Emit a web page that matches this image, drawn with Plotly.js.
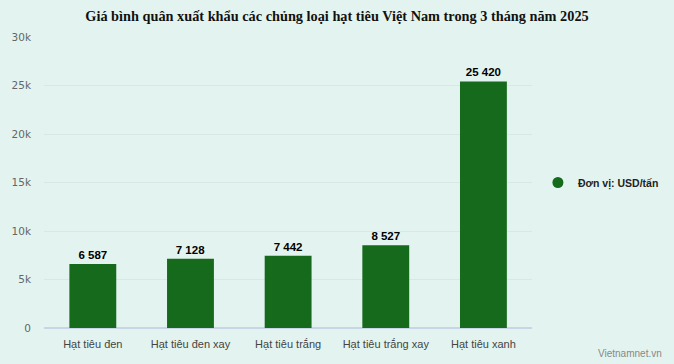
<!DOCTYPE html>
<html><head><meta charset="utf-8">
<script src="https://cdn.plot.ly/plotly-3.0.1.min.js"></script>
<style>html,body{margin:0;padding:0;background:#e3f4f0;}</style>
</head><body>
<div id="chart" style="width:674px;height:364px;"></div>
<script>
const categories = ["Hạt tiêu đen", "Hạt tiêu đen xay", "Hạt tiêu trắng", "Hạt tiêu trắng xay", "Hạt tiêu xanh"];
const prices = [6587, 7128, 7442, 8527, 25420];
const seriesName = "Đơn vị: USD/tấn";
const tickVals = [0, 5000, 10000, 15000, 20000, 25000, 30000];
const tickLabels = ["0", "5k", "10k", "15k", "20k", "25k", "30k"];
const titleText = "Giá bình quân xuất khẩu các chủng loại hạt tiêu Việt Nam trong 3 tháng năm 2025";
const sourceText = "Vietnamnet.vn";

const barColor = "#156a1b";
const traces = [
  {
    type: "bar", x: categories, y: prices, name: seriesName, showlegend: false,
    marker: {color: barColor},
    texttemplate: "<b>%{y:,}</b>", textposition: "outside", cliponaxis: false,
    textfont: {family: "Liberation Sans", size: 11.5, color: "#000"},
    hoverinfo: "skip"
  },
  {
    type: "scatter", mode: "markers", x: [categories[0]], y: [null], name: seriesName,
    marker: {color: barColor, size: 11, symbol: "circle"}, showlegend: true
  }
];
const layout = {
  width: 674, height: 364,
  paper_bgcolor: "#e3f4f0", plot_bgcolor: "#e3f4f0",
  separators: ", ",
  margin: {l: 44, r: 0, t: 37, b: 36},
  title: {text: "<b>" + titleText + "</b>", x: 0.5, xref: "container", xanchor: "center", y: 0.955, yanchor: "middle",
    font: {family: "Liberation Serif", size: 14.3, color: "#111"}},
  bargap: 0.52,
  xaxis: {type: "category", domain: [0, 0.775], tickfont: {family: "Liberation Sans", size: 11, color: "#444"},
    ticks: "", showline: false, showgrid: false, fixedrange: true, ticklabelstandoff: 8},
  yaxis: {range: [0, 30000], tickvals: tickVals, ticktext: tickLabels,
    tickfont: {family: "DejaVu Sans", size: 10.5, color: "#666"},
    gridcolor: "#d7e9e5", gridwidth: 1, zeroline: true, zerolinecolor: "#c8d5e6", zerolinewidth: 1.5,
    ticklabelstandoff: 12, fixedrange: true},
  legend: {x: 0.784, xanchor: "left", y: 0.5, yanchor: "middle", bgcolor: "rgba(0,0,0,0)",
    font: {family: "Liberation Sans", size: 10.5, color: "#222", weight: "bold"}, itemwidth: 30},
  annotations: [{text: sourceText, xref: "paper", yref: "paper", x: 0.984, y: -0.086,
    xanchor: "right", yanchor: "middle", showarrow: false,
    font: {family: "Liberation Sans", size: 10, color: "#888"}}]
};
Plotly.newPlot("chart", traces, layout, {displayModeBar: false, staticPlot: true});
</script>
</body></html>
